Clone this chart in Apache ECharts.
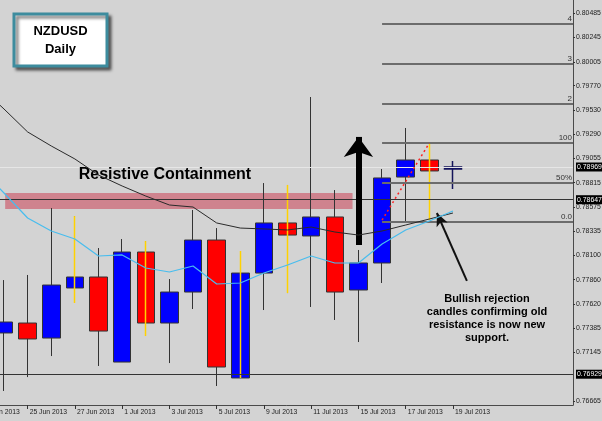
<!DOCTYPE html>
<html><head><meta charset="utf-8">
<script src="https://cdn.jsdelivr.net/npm/echarts@6/dist/echarts.min.js"></script>
<style>html,body{margin:0;padding:0;background:#d3d3d3}#c{width:602px;height:421px}</style>
</head><body><div id="c"></div>
<script>
// ---- data ----
const dates = ['21 Jun 2013','24 Jun 2013','25 Jun 2013','26 Jun 2013','27 Jun 2013','28 Jun 2013','1 Jul 2013','2 Jul 2013','3 Jul 2013','4 Jul 2013','5 Jul 2013','8 Jul 2013','9 Jul 2013','10 Jul 2013','11 Jul 2013','12 Jul 2013','15 Jul 2013','16 Jul 2013','17 Jul 2013','18 Jul 2013','19 Jul 2013'];
const opens  = [null,0.77335,0.77433,0.77285,0.77778,0.77886,0.77049,0.78132,0.77433,0.77738,0.78250,0.76892,0.77925,0.78418,0.78290,0.78477,0.77758,0.78024,0.78870,0.79038,0.78950];
const closes = [null,0.77443,0.77276,0.77807,0.77886,0.77354,0.78132,0.77433,0.77738,0.78250,0.77000,0.77925,0.78418,0.78299,0.78477,0.77738,0.78024,0.78861,0.79038,0.78930,0.78969];
const lows   = [null,0.76764,0.76901,0.77108,0.77630,0.77010,0.77049,0.77305,0.77039,0.77571,0.76813,0.76892,0.77561,0.77728,0.77591,0.77463,0.77246,0.77827,0.78427,0.78447,0.78752];
const highs  = [null,0.77856,0.77906,0.78565,0.78486,0.78171,0.78260,0.78240,0.77866,0.78546,0.78368,0.78142,0.78811,0.78792,0.79658,0.78742,0.78152,0.78949,0.79353,0.79205,0.79028];
const maSlow = [0.79757,0.79540,0.79314,0.79176,0.79048,0.78890,0.78782,0.78683,0.78595,0.78575,0.78418,0.78368,0.78359,0.78349,0.78378,0.78329,0.78299,0.78339,0.78398,0.78457,0.78516];
const maFast = [0.78959,0.78713,0.78467,0.78339,0.78260,0.78093,0.78103,0.77975,0.77935,0.77994,0.77817,0.77827,0.77925,0.78004,0.78093,0.78024,0.78024,0.78211,0.78349,0.78437,0.78536];
const yellowWickDates = ['27 Jun 2013','2 Jul 2013','8 Jul 2013','10 Jul 2013','18 Jul 2013'];
const currentBarDate = '19 Jul 2013';
const xLabelDates = ['21 Jun 2013','25 Jun 2013','27 Jun 2013','1 Jul 2013','3 Jul 2013','5 Jul 2013','9 Jul 2013','11 Jul 2013','15 Jul 2013','17 Jul 2013','19 Jul 2013'];
const yTickLabels = [0.80485,0.80245,0.80005,0.79770,0.79530,0.79290,0.79055,0.78815,0.78575,0.78335,0.78100,0.77860,0.77620,0.77385,0.77145,0.76665];
const boxedPrices = [0.78969,0.78647,0.76929];
const levelLines = [0.78647,0.76929];
const currentPrice = 0.78969;
const fibNames = ['0.0','50%','100','2','3','4'];
const fibPrices = [0.78427,0.78811,0.79205,0.79589,0.79983,0.80377];
const fibStartDate = '16 Jul 2013';
const zonePrices = [0.78555,0.78713];
const zoneSpan = [1.05,15.75];          // in bar-index units
const trendFrom = ['16 Jul 2013',0.78447];
const trendTo = ['18 Jul 2013',0.79205];
const bigArrow = ['15 Jul 2013',0.78201,0.79265];
const noteArrowFrom = [20.59,0.77847];
const noteArrowTo = [19.32,0.78516];
const zoneTitle = ['Resistive Containment',7.81,0.78890];
const noteText = ['Bullish rejection\ncandles confirming old\nresistance is now new\nsupport.',21.44,0.77477];

// ---- chart ----
const X_MIN = -0.862, X_MAX = 25.08;
const Y_MIN = 0.76626, Y_MAX = 0.80613;
const idx = d => dates.indexOf(d);
const FONT = 'Liberation Sans';

const candleData = [];
dates.forEach((d,i)=>{
  if (opens[i]==null) return;
  const item = {value:[i,opens[i],closes[i],lows[i],highs[i]]};
  if (d===currentBarDate) item.itemStyle = {color:'#0a0a78',color0:'#0a0a78',borderColor:'#14145a',borderColor0:'#14145a',borderWidth:1.5};
  candleData.push(item);
});
const yellowData = yellowWickDates.map(d=>{const i=idx(d);return [i,lows[i],lows[i],lows[i],highs[i]];});
const lineData = arr => arr.map((v,i)=>[i,v]);
const xLabelIdx = xLabelDates.map(idx);
const hLine = p => [{coord:[X_MIN,p]},{coord:[X_MAX,p]}];

const chart = echarts.init(document.getElementById('c'));
chart.setOption({
  backgroundColor:'#d3d3d3',
  animation:false,
  grid:{left:-40,right:29,top:0,bottom:16,outerBoundsMode:'none',containLabel:false},
  xAxis:{type:'value',min:X_MIN,max:X_MAX,
    axisLine:{show:true,onZero:false,lineStyle:{color:'#4a4a4a',width:1}},
    splitLine:{show:false},
    axisTick:{show:true,customValues:xLabelIdx,length:4,lineStyle:{color:'#333'}},
    axisLabel:{customValues:xLabelIdx,formatter:v=>dates[Math.round(v)],align:'left',margin:4,padding:[0,0,0,2],
      fontFamily:FONT,fontSize:6.8,color:'#222'}},
  yAxis:{type:'value',position:'right',min:Y_MIN,max:Y_MAX,scale:true,
    axisLine:{show:true,onZero:false,lineStyle:{color:'#4a4a4a',width:1}},
    splitLine:{show:false},
    axisTick:{show:true,customValues:yTickLabels,length:2,lineStyle:{color:'#333'}},
    axisLabel:{customValues:yTickLabels.concat(boxedPrices),margin:3,fontFamily:FONT,fontSize:6.9,color:'#222',
      formatter:v=>{const s=v.toFixed(5);return boxedPrices.some(b=>Math.abs(b-v)<1e-7)?'{b|'+s+'}':s;},
      rich:{b:{backgroundColor:'#000',color:'#fff',padding:[1,1,1,1],fontFamily:FONT,fontSize:6.9}}}},
  graphic:[
    {type:'rect',shape:{x:14,y:14,width:93,height:52},
      style:{fill:'#fff',stroke:'#3d8c9e',lineWidth:3,shadowBlur:3,shadowOffsetX:3,shadowOffsetY:3,shadowColor:'rgba(0,0,0,0.5)'},z:100},
    {type:'text',x:60.5,y:40,style:{text:'NZDUSD\nDaily',align:'center',verticalAlign:'middle',font:'bold 13px "Liberation Sans"',lineHeight:18,fill:'#000'},z:101}
  ],
  series:[
    {type:'line',data:[],z:1,silent:true,
      markArea:{silent:true,itemStyle:{color:'#cf838e'},data:[[{coord:[zoneSpan[0],zonePrices[1]]},{coord:[zoneSpan[1],zonePrices[0]]}]]}},
    {type:'line',data:[],z:2,silent:true,
      markLine:{silent:true,precision:5,symbol:['none','none'],label:{show:false},
        lineStyle:{color:'#e6e6e6',width:1,type:'solid'},
        data:[hLine(currentPrice)]}},
    {type:'line',data:[],z:2,silent:true,
      markLine:{silent:true,precision:5,symbol:['none','none'],label:{show:false},
        lineStyle:{color:'#333',width:1,type:'solid'},
        data:levelLines.map(hLine)}},
    {type:'line',data:[],z:2,silent:true,
      markLine:{silent:true,precision:5,symbol:['none','none'],
        lineStyle:{color:'#6c6c6c',width:2,type:'solid'},
        label:{show:true,position:'insideEndTop',formatter:'{b}',fontFamily:FONT,fontSize:8,color:'#333',distance:[1,1]},
        data:fibPrices.map((p,i)=>[{name:fibNames[i],coord:[idx(fibStartDate),p]},{coord:[X_MAX,p]}])}},
    {type:'candlestick',z:3,barWidth:18,data:candleData,
      itemStyle:{color:'#0000ff',color0:'#ff0000',borderColor:'#333',borderColor0:'#333',borderWidth:1}},
    {type:'candlestick',z:4,barWidth:1,data:yellowData,
      itemStyle:{color:'#ffd200',color0:'#ffd200',borderColor:'#ffd200',borderColor0:'#ffd200',borderWidth:1.5}},
    {type:'line',z:5,data:lineData(maSlow),symbol:'none',lineStyle:{color:'#2a2a2a',width:1}},
    {type:'line',z:5,data:lineData(maFast),symbol:'none',lineStyle:{color:'#48bdee',width:1.2}},
    {type:'line',data:[],z:6,silent:true,
      markLine:{silent:true,precision:5,symbol:['none','none'],label:{show:false},
        lineStyle:{color:'#ff2020',width:1.5,type:[2,3]},
        data:[[{coord:[idx(trendFrom[0]),trendFrom[1]]},{coord:[idx(trendTo[0]),trendTo[1]]}]]}},
    {type:'line',data:[],z:7,silent:true,
      markLine:{silent:true,precision:5,symbol:['none','arrow'],symbolSize:[22,20],label:{show:false},
        lineStyle:{color:'#000',width:6,type:'solid'},
        data:[[{coord:[idx(bigArrow[0]),bigArrow[1]]},{coord:[idx(bigArrow[0]),bigArrow[2]]}]]}},
    {type:'line',data:[],z:7,silent:true,
      markLine:{silent:true,precision:5,symbol:['none','arrow'],symbolSize:[9,13],label:{show:false},
        lineStyle:{color:'#111',width:2,type:'solid'},
        data:[[{coord:noteArrowFrom},{coord:noteArrowTo}]]}},
    {type:'line',data:[],z:8,silent:true,
      markPoint:{silent:true,symbol:'circle',symbolSize:1,itemStyle:{color:'rgba(0,0,0,0)'},
        data:[
          {coord:[zoneTitle[1],zoneTitle[2]],label:{show:true,position:'inside',formatter:zoneTitle[0],fontFamily:FONT,fontWeight:'bold',fontSize:16,color:'#000'}},
          {coord:[noteText[1],noteText[2]],label:{show:true,position:'inside',formatter:noteText[0],fontFamily:FONT,fontWeight:'bold',fontSize:11,lineHeight:13,align:'center',color:'#000'}}
        ]}}
  ]
});
</script></body></html>
